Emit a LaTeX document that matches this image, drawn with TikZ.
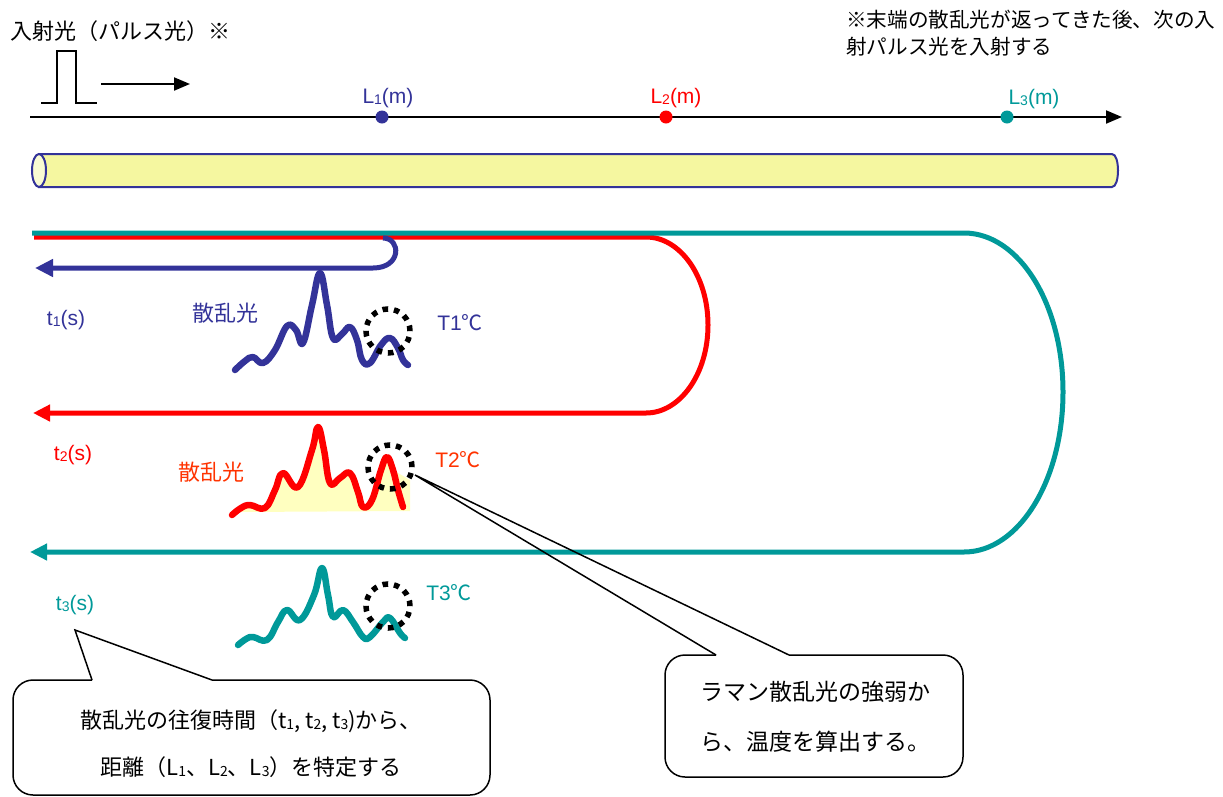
\documentclass[tikz,border=0pt]{standalone}
\usepackage{fontspec}
\setmainfont{Liberation Sans}
\newfontfamily\jpfont{Noto Sans CJK JP}
\usetikzlibrary{arrows.meta}

\definecolor{fiberblue}{RGB}{51,51,153}
\definecolor{fiberred}{RGB}{255,0,0}
\definecolor{labelred}{RGB}{255,51,0}
\definecolor{fiberteal}{RGB}{0,153,153}
\definecolor{fiberfill}{RGB}{245,247,160}
\definecolor{fiberend}{RGB}{249,251,210}
\definecolor{peakfill}{RGB}{255,255,192}

% small index digit, as in L1 or t1
\newcommand{\idx}[1]{\raisebox{-1pt}{\fontsize{14}{14}\selectfont #1}}

\tikzset{
  jptext/.style={font=\jpfont\fontsize{22}{27}\selectfont, inner sep=0pt},
  latintext/.style={font=\fontsize{21}{24}\selectfont, inner sep=0pt},
  dot/.style={circle, inner sep=0pt, minimum size=13pt},
  ret/.style={line width=5pt, -{Triangle[length=17pt,width=16pt]}},
  wave/.style={line width=6.5pt, line cap=round, line join=round},
  probe/.style={draw=black, line width=5.5pt, dash pattern=on 5.5pt off 6pt},
  callout/.style={draw=black, line width=1.5pt},
}

\begin{document}
\begin{tikzpicture}[x=1pt, y=-1pt]
  \useasboundingbox (0,0) rectangle (1223,796);

  % Incident pulse and note
  \node[jptext, anchor=west] (title) at (10,31) {入射光（パルス光）※};
  \node[jptext, anchor=north west, align=left, font=\jpfont\fontsize{20.6}{27}\selectfont] (note) at (846,10)
    {※末端の散乱光が返ってきた後、次の入\\射パルス光を入射する};
  \draw[line width=2pt] (41,103) -- (57,103) -- (57,51) -- (76,51) -- (76,103) -- (97,103);
  \coordinate (pulseA) at (101,84);
  \coordinate (pulseB) at (190,84);
  \draw[line width=2pt, -{Triangle[length=16pt,width=13pt]}] (pulseA) -- (pulseB);

  % Distance axis with the three points
  \coordinate (axisA) at (30,117);
  \coordinate (axisB) at (1122,117);
  \draw[line width=2pt, -{Triangle[length=16pt,width=13pt]}] (axisA) -- (axisB);
  \node[dot, fill=fiberblue] (L1) at (382,117) {};
  \node[dot, fill=fiberred] (L2) at (666,117) {};
  \node[dot, fill=fiberteal] (L3) at (1007,117) {};
  \node[latintext, text=fiberblue] (L1lab) at (388,98) {L\idx{1}(m)};
  \node[latintext, text=fiberred] (L2lab) at (676,98) {L\idx{2}(m)};
  \node[latintext, text=fiberteal] (L3lab) at (1034,99) {L\idx{3}(m)};

  % Optical fibre
  \filldraw[fill=fiberfill, draw=fiberblue, line width=2pt]
    (39,154) -- (1112,154) .. controls (1120,154) and (1120,187) .. (1112,187) -- (39,187) -- cycle;
  \filldraw[fill=fiberend, draw=fiberblue, line width=2pt] (39,170.5) ellipse [x radius=7pt, y radius=16.5pt];

  % Back-scattered light, red and teal paths
  \draw[ret, fiberred] (34,237) -- (646,237) .. controls (680,237) and (708,276) .. (708,325)
    .. controls (708,374) and (680,413) .. (646,413) -- (33,413);
  \draw[ret, fiberteal] (32,233) -- (964,233) .. controls (1019,233) and (1063,304) .. (1063,392)
    .. controls (1063,480) and (1019,552) .. (964,552) -- (30,552);
  \draw[ret, fiberblue, -{Triangle[length=18pt,width=17pt]}] (383,238) .. controls (401,238) and (402,268) .. (373,268) -- (35,268);

  % Time labels
  \node[latintext, text=fiberblue] (t1) at (66,320) {t\idx{1}(s)};
  \node[latintext, text=fiberred] (t2) at (73,455) {t\idx{2}(s)};
  \node[latintext, text=fiberteal] (t3) at (75,605) {t\idx{3}(s)};

  % Scattered light spectra
  \draw[wave, fiberblue] plot[smooth, tension=0.7] coordinates {(235,370) (245,361) (253,357) (263,363)
    (275,350) (287,326) (296,330) (303,343) (312,305) (320,273) (327,305) (333,338) (342,334) (350,327)
    (357,340) (362,360) (370,363) (381,345) (390,338) (398,348) (403,360) (408,365)};
  \fill[peakfill] plot[smooth, tension=0.7] coordinates {(240,512) (250,505) (265,508) (283,473)
    (298,487) (312,450) (318,427) (324,450) (330,483) (350,473) (363,507) (372,500) (381,470) (387,457) (393,470)}
    -- (410,480) -- (410,511) -- cycle;
  \draw[wave, fiberred] plot[smooth, tension=0.7] coordinates {(232,515) (241,508) (250,505) (265,508)
    (275,490) (283,473) (298,487) (312,450) (318,427) (324,450) (330,483) (340,478) (350,473)
    (358,492) (363,507) (372,500) (381,470) (387,457) (393,470) (398,490) (403,507)};
  \draw[wave, fiberteal] plot[smooth, tension=0.7] coordinates {(238,645) (246,639) (253,637) (267,640)
    (278,622) (287,610) (300,620) (314,595) (322,568) (328,595) (333,617) (343,610) (353,622)
    (363,637) (370,637) (383,622) (390,618) (400,633) (405,638)};
  \node[jptext, text=fiberblue] (sc1) at (225,313) {散乱光};
  \node[jptext, text=labelred] (sc2) at (211,472) {散乱光};

  % Temperature probes
  \node[circle, probe, minimum size=44pt, inner sep=0pt] (p1) at (388,331) {};
  \node[circle, probe, minimum size=44pt, inner sep=0pt] (p2) at (390,467) {};
  \node[circle, probe, minimum size=44pt, inner sep=0pt] (p3) at (388,606) {};
  \node[latintext, text=fiberblue] (T1) at (460,323) {T1{\jpfont ℃}};
  \node[latintext, text=labelred] (T2) at (458,460) {T2{\jpfont ℃}};
  \node[latintext, text=fiberteal] (T3) at (449,593) {T3{\jpfont ℃}};

  % Callout for distance
  \coordinate (tipA) at (75,630);
  \coordinate (baseA1) at (92,680);
  \coordinate (baseA2) at (212,680);
  \draw[callout, rounded corners=20pt] (baseA1) -- (13,680) -- (13,795) -- (490,795) -- (490,680) -- (baseA2);
  \draw[callout] (baseA2) -- (tipA) -- (baseA1);
  \node[jptext, align=center, font=\jpfont\fontsize{22}{47}\selectfont] (distText) at (251,744)
    {散乱光の往復時間（t\idx{1}, t\idx{2}, t\idx{3})から、\\距離（L\idx{1}、L\idx{2}、L\idx{3}）を特定する};

  % Callout for temperature
  \coordinate (tipB) at (415,475);
  \coordinate (baseB1) at (716,655);
  \coordinate (baseB2) at (789,655);
  \draw[callout, rounded corners=20pt] (baseB1) -- (665,655) -- (665,777) -- (963,777) -- (963,655) -- (baseB2);
  \draw[callout] (baseB2) -- (tipB) -- (baseB1);
  \node[jptext, align=center, font=\jpfont\fontsize{23}{50}\selectfont] (tempText) at (815,717)
    {ラマン散乱光の強弱か\\ら、温度を算出する。};
\end{tikzpicture}
\end{document}
